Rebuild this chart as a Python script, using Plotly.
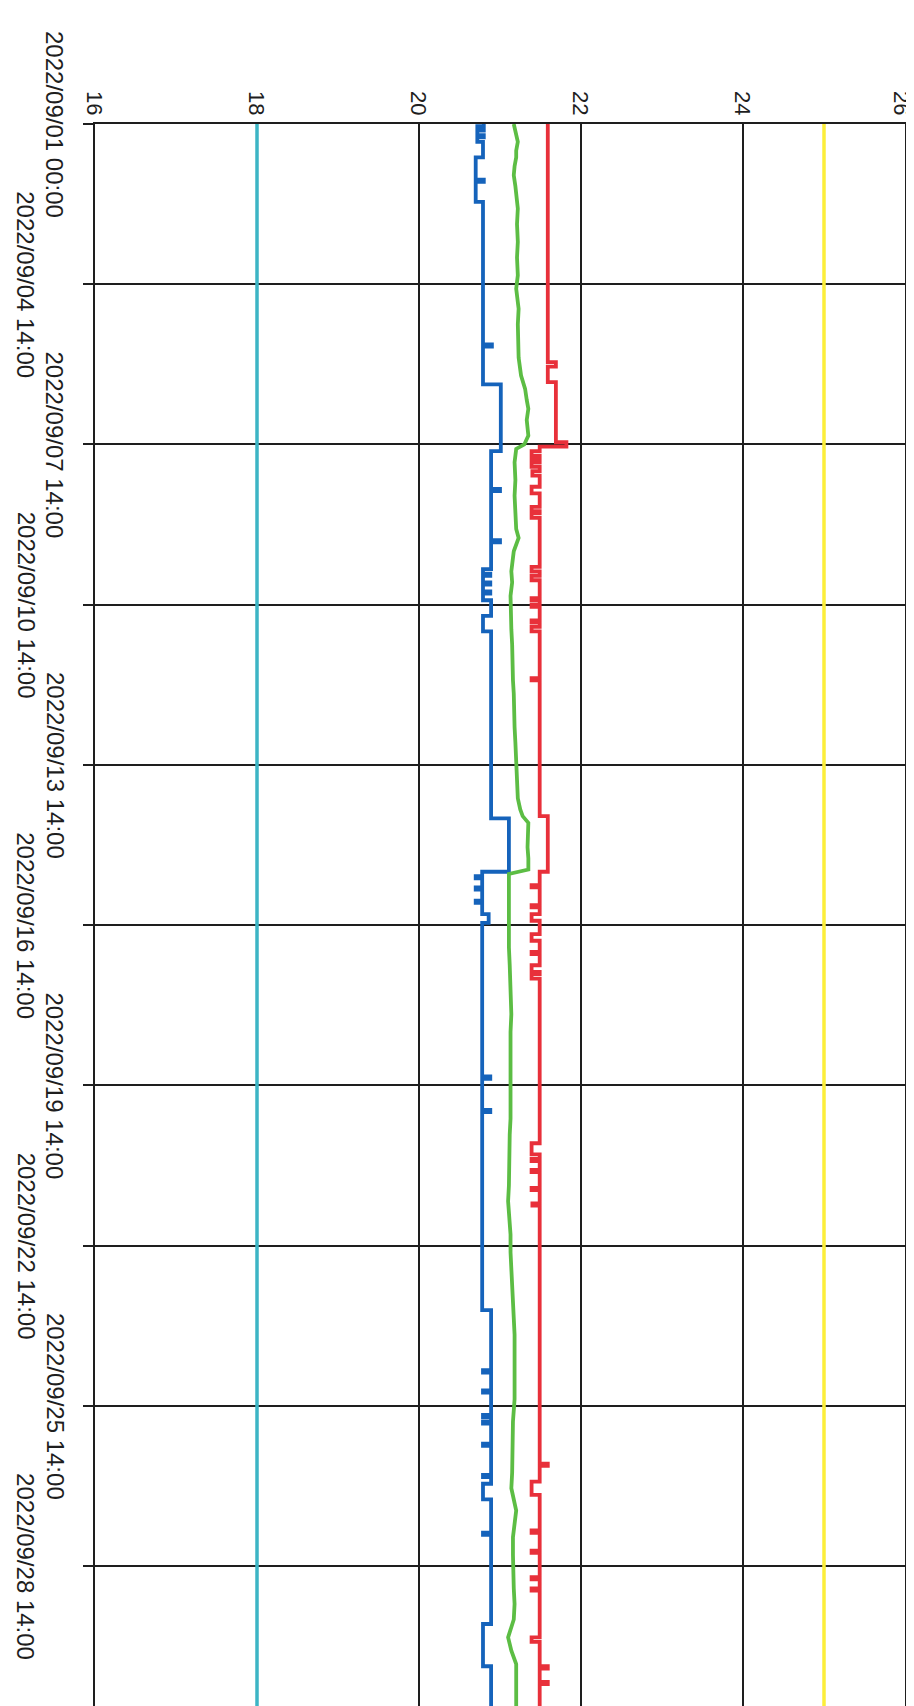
import plotly.graph_objects as go

# ---- time axis (sample index, labels every 72 samples) ----
tick_index = [0, 72, 144, 216, 288, 360, 432, 504, 576, 648]
tick_labels = ["2022/09/01 00:00", "2022/09/04 14:00", "2022/09/07 14:00",
               "2022/09/10 14:00", "2022/09/13 14:00", "2022/09/16 14:00",
               "2022/09/19 14:00", "2022/09/22 14:00", "2022/09/25 14:00",
               "2022/09/28 14:00"]
last_index = 714

value_ticks = [16, 18, 20, 22, 24, 26]

# ---- limit lines ----
limit_idx = [0, last_index]
lower_limit = [18.0, 18.0]
upper_limit = [25.0, 25.0]

# ---- blue series (step changes) ----
blue_idx = [0, 1, 2, 3, 5, 6, 8, 15, 25, 26, 35, 99, 100, 117, 147, 164, 165,
            187, 188, 200, 202, 203, 206, 207, 210, 211, 214, 221, 228, 312,
            336, 338, 339, 343, 344, 349, 350, 355, 359, 428, 429, 443, 444,
            533, 560, 561, 569, 570, 580, 581, 583, 584, 593, 594, 607, 608,
            611, 618, 633, 634, 674, 693, 714]
blue_val = [20.80, 20.72, 20.80, 20.72, 20.80, 20.72, 20.79, 20.70, 20.80, 20.70,
            20.79, 20.90, 20.79, 21.01, 20.89, 21.00, 20.89, 21.00, 20.89, 20.79,
            20.88, 20.79, 20.88, 20.79, 20.88, 20.79, 20.89, 20.79, 20.89, 21.11,
            20.78, 20.70, 20.78, 20.70, 20.78, 20.70, 20.78, 20.86, 20.78, 20.88,
            20.78, 20.88, 20.78, 20.89, 20.79, 20.89, 20.79, 20.89, 20.79, 20.89,
            20.79, 20.89, 20.79, 20.89, 20.79, 20.89, 20.79, 20.89, 20.79, 20.89,
            20.79, 20.89, 20.89]

# ---- green series ----
green_idx = [0, 4, 8, 12, 15, 19, 23, 28, 33, 38, 45, 53, 60, 68, 74, 80, 83,
             90, 98, 105, 113, 119, 124, 128, 133, 137, 140, 144, 146, 152, 160,
             167, 175, 182, 186, 192, 201, 206, 212, 219, 227, 234, 242, 250,
             256, 264, 271, 278, 285, 289, 296, 303, 308, 311, 314, 320, 325,
             330, 335, 337, 345, 355, 362, 370, 378, 385, 393, 400, 408, 415,
             422, 429, 439, 447, 454, 462, 469, 477, 484, 492, 499, 507, 514,
             522, 529, 537, 544, 552, 559, 566, 573, 583, 590, 598, 606, 613,
             618, 623, 629, 635, 643, 650, 658, 665, 672, 680, 686, 692, 698,
             703, 709, 714]
green_val = [21.17, 21.19, 21.22, 21.20, 21.20, 21.18, 21.17, 21.19, 21.20, 21.22,
             21.21, 21.22, 21.21, 21.22, 21.20, 21.22, 21.23, 21.22, 21.23, 21.23,
             21.26, 21.31, 21.33, 21.35, 21.33, 21.34, 21.35, 21.30, 21.20, 21.18,
             21.19, 21.18, 21.19, 21.20, 21.23, 21.17, 21.14, 21.15, 21.13, 21.13,
             21.14, 21.15, 21.15, 21.16, 21.17, 21.17, 21.18, 21.19, 21.20, 21.20,
             21.21, 21.22, 21.25, 21.28, 21.35, 21.34, 21.34, 21.35, 21.35, 21.11,
             21.11, 21.10, 21.11, 21.11, 21.12, 21.13, 21.13, 21.14, 21.13, 21.13,
             21.14, 21.14, 21.14, 21.13, 21.12, 21.12, 21.12, 21.11, 21.10, 21.12,
             21.13, 21.13, 21.14, 21.15, 21.16, 21.17, 21.18, 21.18, 21.18, 21.18,
             21.18, 21.16, 21.16, 21.15, 21.15, 21.14, 21.17, 21.20, 21.18, 21.16,
             21.16, 21.16, 21.17, 21.18, 21.17, 21.10, 21.14, 21.20, 21.20, 21.19,
             21.20, 21.20]

# ---- red series (step changes) ----
red_idx = [0, 107, 109, 116, 143, 145, 147, 149, 150, 151, 152, 154, 156, 158,
           163, 166, 172, 174, 175, 177, 199, 201, 203, 205, 213, 214, 216, 217,
           223, 224, 226, 228, 249, 250, 311, 336, 342, 343, 351, 352, 355, 358,
           364, 367, 372, 373, 378, 381, 382, 384, 458, 463, 465, 466, 470, 471,
           478, 479, 485, 486, 602, 603, 610, 616, 632, 633, 641, 642, 653, 654,
           658, 659, 680, 682, 693, 694, 700, 701, 714]
red_val = [21.59, 21.69, 21.59, 21.69, 21.82, 21.49, 21.39, 21.49, 21.39, 21.49,
           21.39, 21.49, 21.40, 21.49, 21.39, 21.49, 21.39, 21.49, 21.39, 21.49,
           21.39, 21.49, 21.39, 21.49, 21.39, 21.49, 21.39, 21.49, 21.39, 21.49,
           21.39, 21.49, 21.39, 21.49, 21.59, 21.49, 21.39, 21.49, 21.39, 21.49,
           21.39, 21.49, 21.39, 21.49, 21.39, 21.49, 21.39, 21.49, 21.39, 21.49,
           21.39, 21.49, 21.39, 21.49, 21.39, 21.49, 21.39, 21.49, 21.40, 21.49,
           21.59, 21.49, 21.39, 21.49, 21.39, 21.49, 21.39, 21.49, 21.39, 21.49,
           21.39, 21.49, 21.39, 21.49, 21.59, 21.49, 21.59, 21.49, 21.49]

FONT = "Liberation Sans, Arial, sans-serif"
INK = "#1e1e1e"

fig = go.Figure()
fig.add_trace(go.Scatter(x=lower_limit, y=limit_idx, mode="lines",
                         line=dict(color="#3cb5c5", width=3.5), showlegend=False))
fig.add_trace(go.Scatter(x=upper_limit, y=limit_idx, mode="lines",
                         line=dict(color="#fcee3a", width=3.5), showlegend=False))
fig.add_trace(go.Scatter(x=blue_val, y=blue_idx, mode="lines",
                         line=dict(color="#1563bb", width=3.8, shape="vh"),
                         showlegend=False))
fig.add_trace(go.Scatter(x=green_val, y=green_idx, mode="lines",
                         line=dict(color="#5cbd44", width=3.8),
                         showlegend=False))
fig.add_trace(go.Scatter(x=red_val, y=red_idx, mode="lines",
                         line=dict(color="#e8303a", width=3.8, shape="vh"),
                         showlegend=False))

# value labels along the top, rotated like the scan
for v in value_ticks:
    fig.add_annotation(x=v, xref="x", y=1, yref="paper", text=str(v),
                       textangle=90, showarrow=False, borderpad=0,
                       xanchor="center", yanchor="middle", yshift=21,
                       xshift=-3 if v == value_ticks[-1] else 0,
                       font=dict(family=FONT, size=22, color=INK))

# date labels, alternating in two columns, rotated like the scan
for i, (t, lab) in enumerate(zip(tick_index, tick_labels)):
    fig.add_annotation(x=0, xref="paper", y=t, yref="y", text=lab,
                       textangle=90, showarrow=False, borderpad=0,
                       xanchor="center", yanchor="middle",
                       xshift=-40 if i % 2 == 0 else -69,
                       font=dict(family=FONT, size=24, color=INK))

fig.update_layout(
    width=914, height=1706,
    margin=dict(l=87, r=17, t=116, b=1),
    paper_bgcolor="white", plot_bgcolor="white",
    xaxis=dict(range=[16, 26], tickvals=value_ticks, showticklabels=False,
               showgrid=True, gridcolor=INK, gridwidth=1.5,
               showline=True, linecolor=INK, linewidth=1.5, mirror=True,
               zeroline=False, ticks=""),
    yaxis=dict(range=[last_index, 0], tickvals=tick_index, showticklabels=False,
               showgrid=True, gridcolor=INK, gridwidth=1.5,
               showline=True, linecolor=INK, linewidth=1.5, mirror=True,
               zeroline=False, ticks="outside", ticklen=10, tickwidth=1.5,
               tickcolor=INK),
)

fig.write_html("out.html")
